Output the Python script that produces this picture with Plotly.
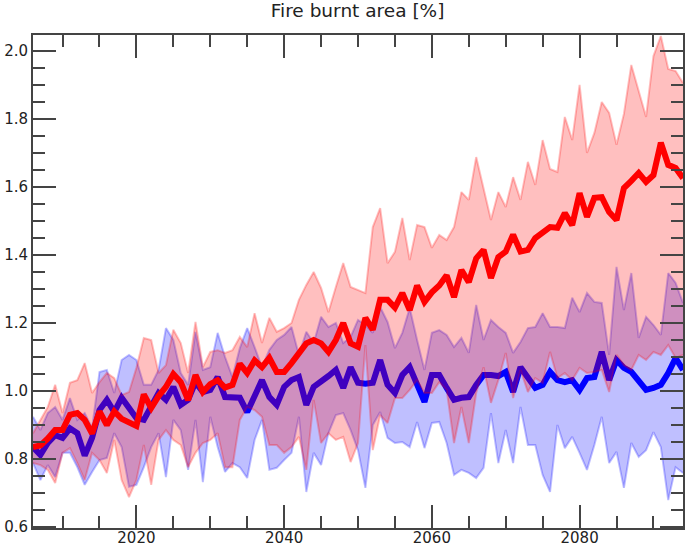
import plotly.graph_objects as go

years = list(range(2006, 2095))

# high-emission scenario (red)
red_mean = [0.835, 0.84, 0.86, 0.885, 0.885, 0.93, 0.935, 0.915, 0.875, 0.94,
            0.90, 0.94, 0.918, 0.905, 0.897, 0.99, 0.95, 0.985, 1.012, 1.05,
            1.026, 0.973, 1.047, 0.997, 1.02, 1.032, 1.01, 1.018, 1.08, 1.053,
            1.09, 1.07, 1.097, 1.056, 1.056, 1.082, 1.112, 1.14, 1.15, 1.14,
            1.115, 1.15, 1.20, 1.14, 1.13, 1.215, 1.18, 1.268, 1.268, 1.245,
            1.288, 1.238, 1.31, 1.262, 1.29, 1.31, 1.34, 1.276, 1.356, 1.32,
            1.39, 1.415, 1.332, 1.394, 1.41, 1.46, 1.41, 1.415, 1.45, 1.465,
            1.482, 1.48, 1.523, 1.488, 1.582, 1.512, 1.568, 1.57, 1.526, 1.503,
            1.597, 1.618, 1.641, 1.615, 1.635, 1.73, 1.665, 1.656, 1.626]
red_upper = [0.876, 0.915, 0.953, 1.018, 0.935, 1.024, 1.032, 1.082, 0.994, 1.026,
             1.053, 1.038, 0.988, 0.997, 1.068, 1.156, 1.15, 1.053, 1.076, 1.18,
             1.141, 1.053, 1.203, 1.07, 1.115, 1.12, 1.112, 1.12, 1.159, 1.129,
             1.229, 1.141, 1.215, 1.174, 1.185, 1.2, 1.268, 1.312, 1.35, 1.303,
             1.232, 1.306, 1.376, 1.306, 1.297, 1.288, 1.482, 1.538, 1.376, 1.409,
             1.509, 1.385, 1.488, 1.482, 1.421, 1.459, 1.444, 1.482, 1.585, 1.562,
             1.688, 1.6, 1.503, 1.585, 1.541, 1.629, 1.562, 1.674, 1.606, 1.738,
             1.653, 1.644, 1.806, 1.738, 1.9, 1.7, 1.759, 1.85, 1.818, 1.724,
             1.815, 1.959, 1.882, 1.806, 1.985, 2.044, 1.947, 1.941, 1.906]
red_lower = [0.788, 0.782, 0.768, 0.729, 0.818, 0.832, 0.788, 0.738, 0.818, 0.797,
             0.759, 0.856, 0.738, 0.688, 0.738, 0.841, 0.724, 0.856, 0.885, 0.856,
             0.841, 0.776, 0.818, 0.847, 0.856, 0.876, 0.776, 0.776, 0.915, 0.953,
             0.944, 0.924, 0.841, 0.841, 0.818, 0.835, 0.865, 0.768, 0.974, 0.847,
             0.876, 0.856, 0.865, 0.791, 0.847, 1.135, 0.826, 0.929, 0.906, 0.979,
             0.979, 1.003, 1.032, 0.994, 0.994, 1.026, 1.003, 0.847, 0.953, 0.847,
             0.994, 1.07, 0.965, 1.032, 1.112, 0.979, 1.062, 0.997, 1.038, 1.024,
             1.115, 1.038, 1.053, 1.032, 1.068, 1.053, 1.056, 1.062, 0.997, 1.106,
             1.076, 1.062, 1.106, 1.091, 1.115, 1.106, 1.135, 1.097, 1.106]

# low-emission scenario (blue)
blue_mean = [0.835, 0.812, 0.847, 0.87, 0.862, 0.89, 0.876, 0.81, 0.862, 0.944,
             0.974, 0.938, 0.98, 0.953, 0.92, 0.915, 0.959, 0.994, 0.974, 1.012,
             0.959, 0.974, 1.026, 0.997, 1.003, 1.041, 0.982, 0.98, 0.98, 0.938,
             0.988, 1.032, 0.982, 0.959, 1.012, 1.032, 1.041, 0.959, 1.012, 1.026,
             1.044, 1.062, 1.009, 1.07, 1.024, 1.021, 1.024, 1.091, 1.018, 0.994,
             1.047, 1.07, 1.024, 0.968, 1.047, 1.047, 1.009, 0.974, 0.98, 0.982,
             1.018, 1.047, 1.047, 1.044, 1.056, 0.997, 1.07, 1.041, 1.009, 1.018,
             1.056, 1.032, 1.026, 1.032, 1.003, 1.038, 1.041, 1.115, 1.032, 1.091,
             1.068, 1.056, 1.026, 1.003, 1.009, 1.018, 1.053, 1.097, 1.062]
blue_upper = [0.924, 0.885, 0.935, 0.953, 0.915, 0.979, 0.915, 0.935, 0.891, 1.056,
              1.062, 0.994, 1.091, 1.106, 1.091, 1.018, 1.018, 1.062, 1.185, 1.15,
              1.053, 1.018, 1.174, 1.062, 1.07, 1.171, 1.1, 1.041, 1.126, 1.185,
              1.129, 1.07, 1.121, 1.15, 1.165, 1.188, 1.106, 1.174, 1.141, 1.218,
              1.188, 1.2, 1.141, 1.159, 1.209, 1.194, 1.171, 1.247, 1.203, 1.126,
              1.171, 1.244, 1.15, 1.062, 1.171, 1.179, 1.165, 1.129, 1.156, 1.112,
              1.253, 1.15, 1.209, 1.188, 1.171, 1.112, 1.144, 1.185, 1.188, 1.229,
              1.188, 1.188, 1.185, 1.274, 1.232, 1.288, 1.262, 1.259, 1.106, 1.365,
              1.238, 1.347, 1.156, 1.218, 1.194, 1.165, 1.347, 1.318, 1.259]
blue_lower = [0.788, 0.738, 0.782, 0.747, 0.818, 0.818, 0.776, 0.724, 0.762, 0.797,
              0.803, 0.876, 0.835, 0.718, 0.724, 0.776, 0.835, 0.876, 0.747, 0.915,
              0.885, 0.768, 0.915, 0.732, 0.924, 0.835, 0.762, 0.788, 0.776, 0.744,
              0.856, 0.915, 0.768, 0.774, 0.797, 0.818, 0.924, 0.703, 0.818, 0.782,
              0.876, 0.929, 0.935, 0.885, 0.826, 0.715, 0.9, 0.938, 0.862, 0.847,
              0.85, 0.835, 0.909, 0.832, 0.906, 0.909, 0.847, 0.753, 0.768, 0.759,
              0.744, 0.774, 0.935, 0.788, 0.885, 0.788, 0.953, 0.841, 0.841, 0.753,
              0.703, 0.9, 0.832, 0.865, 0.818, 0.768, 0.841, 0.924, 0.788, 0.821,
              0.715, 0.847, 0.806, 0.826, 0.879, 0.835, 0.679, 0.776, 0.759]

fig = go.Figure()

# blue band + line first, red band drawn over it
fig.add_trace(go.Scatter(x=years, y=blue_lower, mode='lines',
                         line=dict(color='rgba(0,0,255,0.25)', width=2),
                         showlegend=False, hoverinfo='skip'))
fig.add_trace(go.Scatter(x=years, y=blue_upper, mode='lines', fill='tonexty',
                         fillcolor='rgba(0,0,255,0.25)',
                         line=dict(color='rgba(0,0,255,0.25)', width=2),
                         showlegend=False, hoverinfo='skip'))
fig.add_trace(go.Scatter(x=years, y=blue_mean, mode='lines',
                         line=dict(color='blue', width=6),
                         name='low'))

fig.add_trace(go.Scatter(x=years, y=red_lower, mode='lines',
                         line=dict(color='rgba(255,0,0,0.25)', width=2),
                         showlegend=False, hoverinfo='skip'))
fig.add_trace(go.Scatter(x=years, y=red_upper, mode='lines', fill='tonexty',
                         fillcolor='rgba(255,0,0,0.25)',
                         line=dict(color='rgba(255,0,0,0.25)', width=2),
                         showlegend=False, hoverinfo='skip'))
fig.add_trace(go.Scatter(x=years, y=red_mean, mode='lines',
                         line=dict(color='red', width=6),
                         name='high'))

axis_style = dict(
    showgrid=False, zeroline=False, automargin=False,
    showline=True, linecolor='#444', linewidth=2, mirror='allticks',
    ticks='inside', ticklen=23, tickwidth=2, tickcolor='#444',
    tickfont=dict(family='DejaVu Sans', size=15, color='#222'),
)

fig.update_xaxes(range=[2006, 2094], tick0=2000, dtick=20, ticklabelstandoff=-5,
                 minor=dict(ticks='inside', ticklen=12, tickwidth=2,
                            tickcolor='#444', dtick=5, tick0=2000, showgrid=False),
                 **axis_style)
fig.update_yaxes(range=[0.597, 2.047], tick0=0, dtick=0.2, tickformat='.1f',
                 minor=dict(ticks='inside', ticklen=12, tickwidth=2,
                            tickcolor='#444', dtick=0.05, tick0=0, showgrid=False),
                 **axis_style)

fig.update_layout(
    width=685, height=547,
    margin=dict(l=33, r=2, t=35, b=19, autoexpand=False),
    title=dict(text='Fire burnt area [%]', x=0.522, xanchor='center', y=0.993,
               yanchor='top', automargin=False,
               font=dict(family='DejaVu Sans', size=18.5, color='#222')),
    plot_bgcolor='white', paper_bgcolor='white',
    showlegend=False,
    font=dict(family='DejaVu Sans'),
)

fig.write_html("out.html", config={'displayModeBar': False},
               post_script="document.body.style.margin='0';document.body.style.overflow='hidden';")
